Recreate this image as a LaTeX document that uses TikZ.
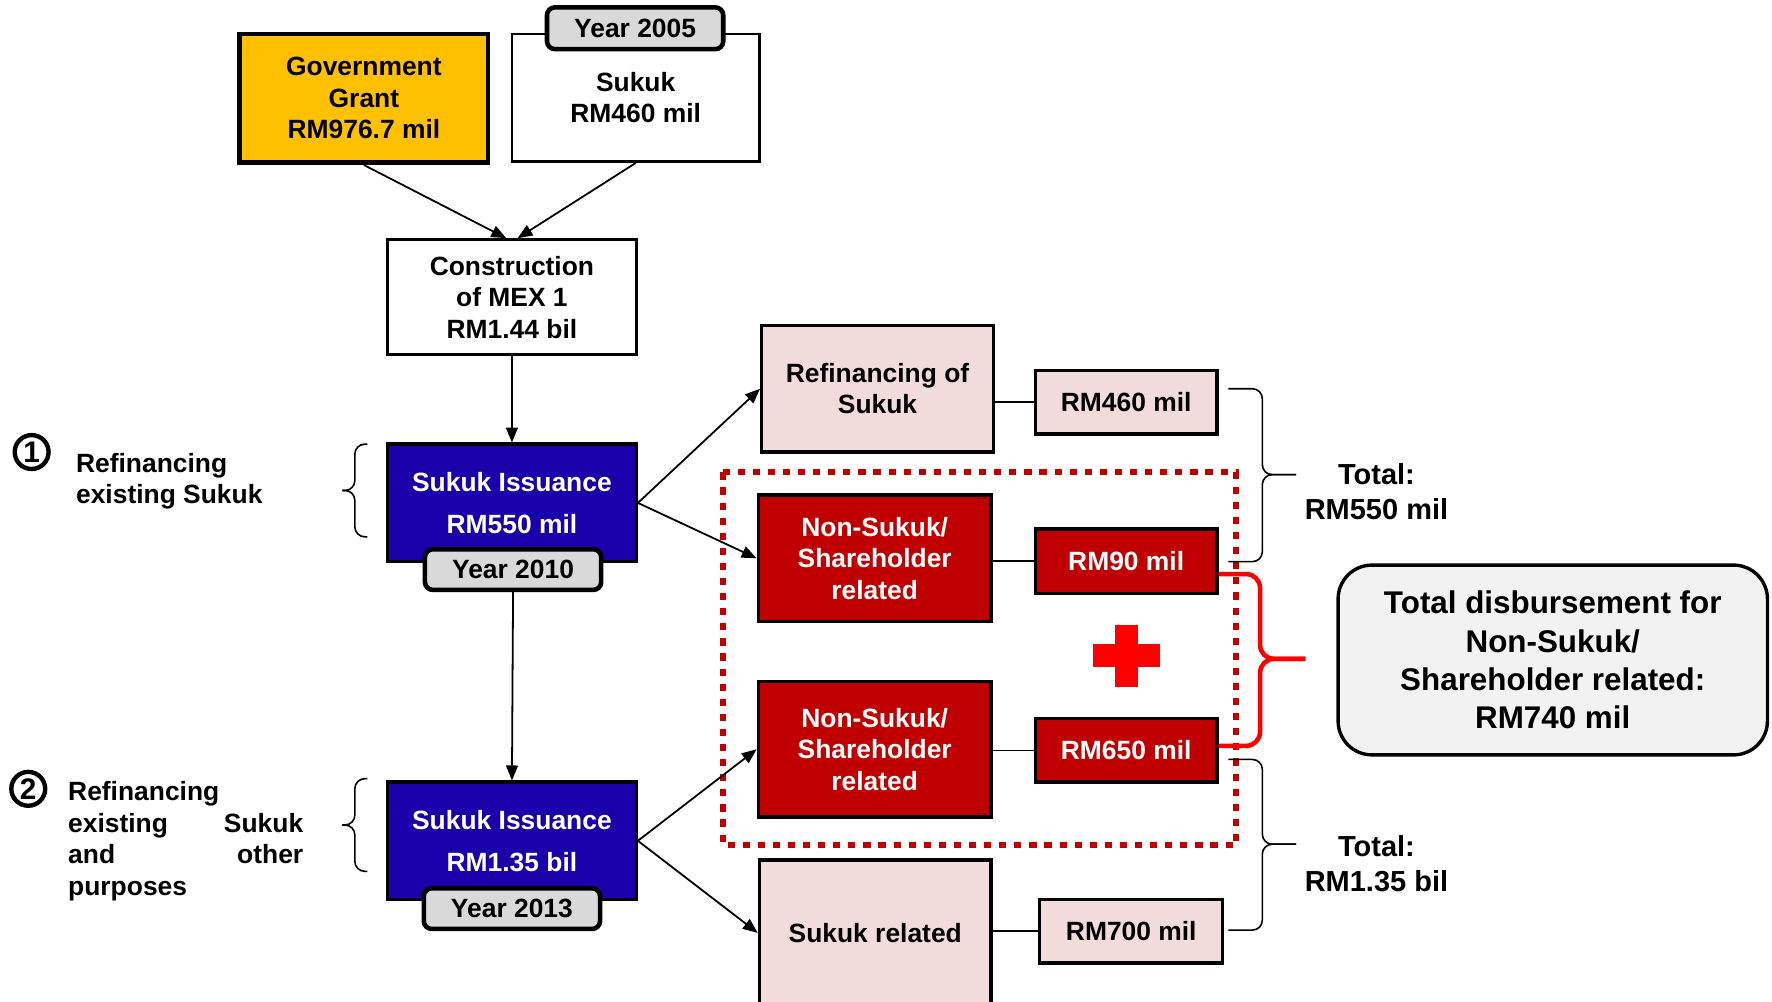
\documentclass[tikz,border=0pt]{standalone}
\usepackage{fontspec}
\setmainfont{Liberation Sans}
\usetikzlibrary{arrows.meta}
\definecolor{grantyellow}{HTML}{FFC000}
\definecolor{issblue}{HTML}{1A00AA}
\definecolor{darkred}{HTML}{C00000}
\definecolor{pinkfill}{HTML}{F2DCDB}
\definecolor{yeargray}{HTML}{D9D9D9}
\definecolor{sumgray}{HTML}{F2F2F2}
\definecolor{plusred}{HTML}{FF0000}
\newcommand\boxfont{\fontsize{13.3}{15.9}\selectfont\bfseries}
\newcommand\issfont{\fontsize{13.3}{21}\selectfont\bfseries}
\newcommand\totfont{\fontsize{14.6}{17.6}\selectfont\bfseries}
\newcommand\sumfont{\fontsize{15.8}{19.3}\selectfont\bfseries}
\newcommand\numfont{\fontsize{15}{18}\selectfont\bfseries}
\tikzstyle{plainbox}=[draw, line width=1.4pt, fill=white, align=center, inner sep=0pt, font=\boxfont]
\tikzstyle{grantbox}=[plainbox, fill=grantyellow, line width=2.3pt]
\tikzstyle{issbox}=[plainbox, fill=issblue, text=white, line width=1.7pt, font=\issfont, minimum width=4.4cm, minimum height=2.08cm]
\tikzstyle{yearbox}=[plainbox, fill=yeargray, rounded corners=4pt, line width=2.3pt, minimum width=3.12cm, minimum height=0.74cm]
\tikzstyle{pinkbox}=[plainbox, fill=pinkfill, line width=1.7pt]
\tikzstyle{redbox}=[plainbox, fill=darkred, text=white, line width=1.7pt]
\tikzstyle{numcirc}=[circle, draw, line width=2.2pt, minimum size=0.6cm, inner sep=0pt, font=\numfont]
\tikzstyle{note}=[align=left, inner sep=0pt, font=\boxfont]
\tikzstyle{total}=[align=center, inner sep=0pt, font=\totfont]
\tikzstyle{sumbox}=[plainbox, fill=sumgray, rounded corners=0.6cm, line width=1.7pt, font=\sumfont, minimum width=7.6cm, minimum height=3.36cm]
\tikzstyle{arr}=[line width=0.9pt, -{Triangle[length=7.5pt,width=6pt]}]
\tikzstyle{link}=[line width=0.9pt]
\tikzstyle{curly}=[line width=0.8pt, rounded corners=5pt]
\tikzstyle{redcurly}=[draw=plusred, line width=2.3pt, rounded corners=7pt]
\tikzstyle{dotframe}=[draw=darkred, line width=3pt, dash pattern=on 3.6pt off 4pt]

\begin{document}
\begin{tikzpicture}[x=0.02cm, y=-0.02cm]
  \useasboundingbox (0,0) rectangle (1568,886);
  \clip (0,0) rectangle (1568,886);
  % sources and construction
  \node[grantbox, minimum width=4.4cm, minimum height=2.28cm] (grant) at (322,87) {Government\\Grant\\RM976.7 mil};
  \node[plainbox, minimum width=4.38cm, minimum height=2.26cm] (sukuk05) at (562.5,86.5) {Sukuk\\RM460 mil};
  \node[yearbox] (yr05) at (562,25) {Year 2005};
  \node[plainbox, minimum width=4.4cm, minimum height=2.04cm] (mex) at (453,263) {Construction\\of MEX 1\\RM1.44 bil};
  \draw[arr] (grant.south) -- ([xshift=-0.1cm]mex.north);
  \draw[arr] (sukuk05.south) -- ([xshift=0.1cm]mex.north);

  % issuances
  \node[issbox] (iss1) at (453,445) {Sukuk Issuance\\RM550 mil};
  \node[yearbox, minimum height=0.72cm] (yr10) at (454,504) {Year 2010};
  \node[issbox] (iss2) at (453,744) {Sukuk Issuance\\RM1.35 bil};
  \node[yearbox, minimum height=0.72cm] (yr13) at (453,804) {Year 2013};
  \draw[arr] (mex.south) -- (iss1.north);
  \draw[arr] (yr10.south) -- (iss2.north);

  % left notes
  \node[numcirc] (num1) at (28,400) {1};
  \node[note, anchor=west] (txt1) at (67,426) {Refinancing\\existing Sukuk};
  \node[numcirc] (num2) at (25,698) {2};
  \node[note, anchor=west, text width=4.16cm] (txt2) at (60,744.5) {Refinancing\\existing\hfill Sukuk\\and\hfill other\\purposes};
  \draw[curly] (325,393) -- (314,393) -- (314,434) -- (303,434);
  \draw[curly] (325,475) -- (314,475) -- (314,434) -- (303,434);
  \draw[curly] (325,689) -- (314,689) -- (314,730) -- (303,730);
  \draw[curly] (325,771) -- (314,771) -- (314,730) -- (303,730);

  % uses of funds
  \draw[dotframe] (640,418) rectangle (1094,748);
  \node[pinkbox, minimum width=4.1cm, minimum height=2.24cm] (refin) at (776.5,344) {Refinancing of\\Sukuk};
  \node[pinkbox, minimum width=3.22cm, minimum height=1.12cm] (rm460) at (996.5,356) {RM460 mil};
  \node[redbox, minimum width=4.12cm, minimum height=2.24cm] (ns1) at (774,494) {Non-Sukuk/\\Shareholder\\related};
  \node[redbox, minimum width=3.22cm, minimum height=1.14cm] (rm90) at (996.5,496.5) {RM90 mil};
  \node[redbox, minimum width=4.12cm, minimum height=2.4cm] (ns2) at (774,663) {Non-Sukuk/\\Shareholder\\related};
  \node[redbox, minimum width=3.22cm, minimum height=1.12cm] (rm650) at (996.5,664) {RM650 mil};
  \node[pinkbox, minimum width=4.1cm, minimum height=2.58cm] (skrel) at (774.5,825.5) {Sukuk related};
  \node[pinkbox, minimum width=3.24cm, minimum height=1.12cm] (rm700) at (1001,824) {RM700 mil};
  \draw[arr] (iss1.east) -- (refin.west);
  \draw[arr] (iss1.east) -- (ns1.west);
  \draw[arr] (iss2.east) -- (ns2.west);
  \draw[arr] (iss2.east) -- (skrel.west);
  \draw[link] (refin.east |- rm460.west) -- (rm460.west);
  \draw[link] (ns1.east |- rm90.west) -- (rm90.west);
  \draw[link] (ns2.east |- rm650.west) -- (rm650.west);
  \draw[link] (skrel.east |- rm700.west) -- (rm700.west);
  \fill[plusred] (967,570) rectangle (1026,590);
  \fill[plusred] (987,553) rectangle (1007,608);

  % totals
  \draw[curly] (1087,344) -- (1117,344) -- (1117,420) -- (1147,420);
  \draw[curly] (1087,497) -- (1117,497) -- (1117,420) -- (1147,420);
  \draw[curly] (1087,672) -- (1117,672) -- (1117,747) -- (1147,747);
  \draw[curly] (1087,823) -- (1117,823) -- (1117,747) -- (1147,747);
  \draw[redcurly] (1078,508) -- (1115,508) -- (1115,583) -- (1155,583);
  \draw[redcurly] (1078,660) -- (1115,660) -- (1115,583) -- (1155,583);
  \node[total] (tot1) at (1218,435) {Total:\\RM550 mil};
  \node[total] (tot2) at (1218,764) {Total:\\RM1.35 bil};
  \node[sumbox] (sum) at (1374,584) {Total disbursement for\\Non-Sukuk/\\Shareholder related:\\RM740 mil};
\end{tikzpicture}
\end{document}
